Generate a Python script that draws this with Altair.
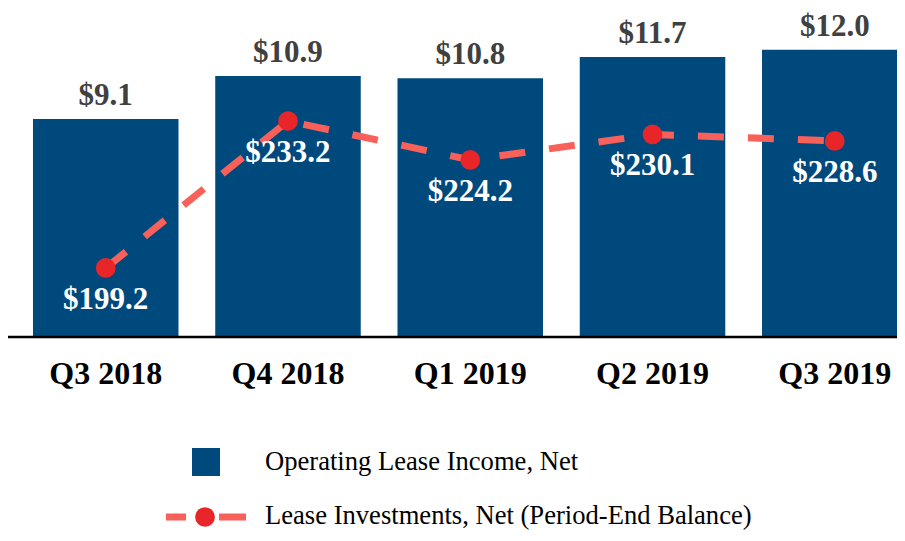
import altair as alt
import pandas as pd

quarters = ["Q3 2018", "Q4 2018", "Q1 2019", "Q2 2019", "Q3 2019"]
income = [9.1, 10.9, 10.8, 11.7, 12.0]
investments = [199.2, 233.2, 224.2, 230.1, 228.6]
legend_labels = ["Operating Lease Income, Net", "Lease Investments, Net (Period-End Balance)"]

df = pd.DataFrame({
    "quarter": quarters,
    "income": income,
    "investment": investments,
    "income_label": [f"${v:.1f}" for v in income],
    "inv_label": [f"${v:.1f}" for v in investments],
})

BAR = "#00497D"
LINE = "#F9605A"
DOT = "#E8262A"
SERIF = "Liberation Serif"

W, H = 889, 525
BASE = 328

xs = alt.Scale(domain=quarters, range=[0, 924.5], paddingInner=0.2016, paddingOuter=0.137)
x = alt.X("quarter:N", scale=xs, axis=None, sort=quarters)
y_inc = alt.Y("income:Q", scale=alt.Scale(domain=[0, 13.75], range=[BASE, 0]), axis=None)
y_inv = alt.Y("investment:Q", scale=alt.Scale(domain=[183.47, 259.34], range=[BASE, 0], zero=False), axis=None)

base = alt.Chart(df)

bars = base.mark_bar(color=BAR).encode(x=x, y=y_inc)
bar_labels = base.mark_text(font=SERIF, fontSize=31, fontWeight="bold", color="#404040",
                            baseline="middle", dy=-23).encode(x=x, y=y_inc, text="income_label:N")
line = base.mark_line(color=LINE, strokeWidth=7, strokeDash=[26, 24], strokeCap="butt").encode(x=x, y=y_inv)
points = base.mark_point(filled=True, shape="circle", size=390, color=DOT, opacity=1).encode(x=x, y=y_inv)
line_labels = base.mark_text(font=SERIF, fontSize=31, fontWeight="bold", color="white",
                             baseline="middle", dy=32).encode(x=x, y=y_inv, text="inv_label:N")
cat_labels = base.mark_text(font=SERIF, fontSize=32, fontWeight="bold", color="black",
                            baseline="middle").encode(x=x, y=alt.value(366), text="quarter:N")

single = alt.Chart(pd.DataFrame({"k": [0]}))
baseline = single.mark_rule(color="black", strokeWidth=2.5).encode(
    x=alt.value(0), x2=alt.value(W), y=alt.value(BASE + 1))

leg_df = pd.DataFrame({"label": legend_labels, "ypos": [454, 508]})
leg_text = alt.Chart(leg_df).mark_text(font=SERIF, fontSize=26.6, color="black", align="left",
                                        baseline="middle").encode(
    x=alt.value(257), y=alt.Y("ypos:Q", scale=None), text="label:N")
leg_square = single.mark_square(color=BAR, size=784, opacity=1).encode(x=alt.value(198), y=alt.value(454))
leg_line = single.mark_rule(color=LINE, strokeWidth=7, strokeDash=[20, 33, 27], strokeCap="butt").encode(
    x=alt.value(158), x2=alt.value(238), y=alt.value(509))
leg_dot = single.mark_point(filled=True, shape="circle", size=390, color=DOT, opacity=1).encode(
    x=alt.value(197), y=alt.value(509))

chart = alt.layer(
    bars, bar_labels, line, points, line_labels, cat_labels, baseline,
    leg_square, leg_line, leg_dot, leg_text
).resolve_scale(y="independent").properties(
    width=W, height=H, autosize=alt.AutoSizeParams(type="none"), padding=0
).configure_view(stroke=None)

chart.save("out.html", embed_options={"renderer": "svg", "actions": False})
